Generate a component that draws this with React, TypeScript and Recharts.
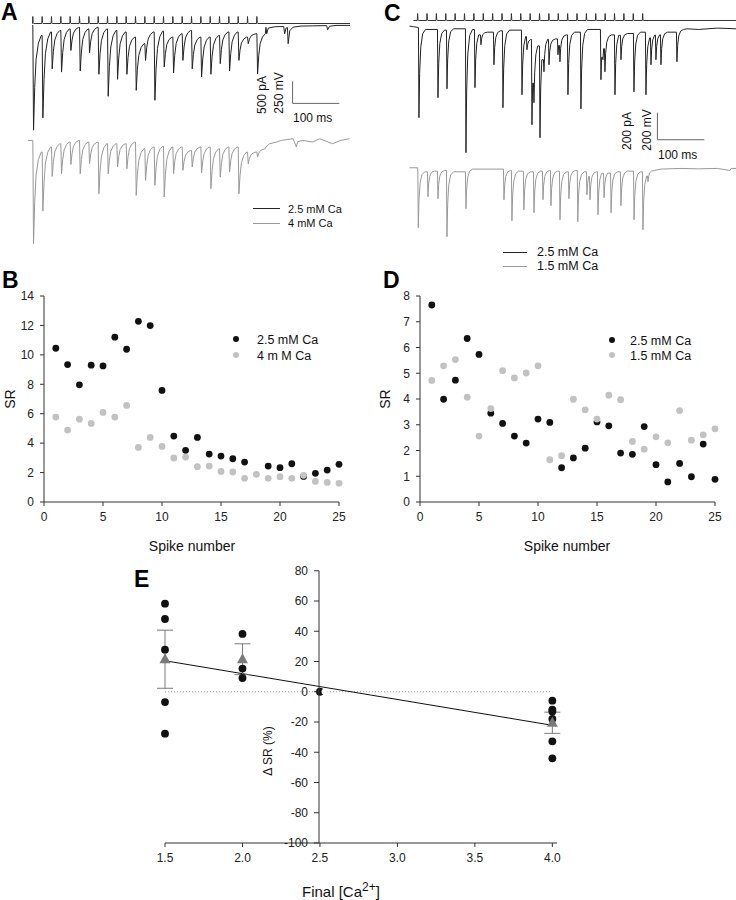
import React from 'react';
import {
  LineChart, Line, XAxis, YAxis, ScatterChart, Scatter, ComposedChart,
  ReferenceLine, ErrorBar,
} from 'recharts';

const FONT = '"Liberation Sans", Arial, Helvetica, sans-serif';
const AXIS = '#333';
const TICK = { fill: '#222', fontSize: 12, fontFamily: FONT };

// ---------- Panel A / C traces (times in ms, currents in pA, stim in mV) ----------
const stimTimes = [0, 20, 40, 60, 80, 100, 120, 140, 160, 180, 200, 220, 240, 260, 280, 300, 320, 340, 360, 380, 400, 420, 440, 460, 480];
const stimHeight = 80;

// A: 2.5 mM Ca (black)
const aBlackTimes = [0.5, 20.5, 40.5, 60.5, 80.5, 100.5, 120.5, 140.5, 160.5, 180.5, 200.5, 220.5, 240.5, 260.5, 280.5, 300.5, 320.5, 340.5, 360.5, 380.5, 400.5, 420.5, 440.5, 460.5, 480.5];
const aBlackPeaks = [-2380, -2100, -985, -1060, -570, -1035, -620, -1110, -1610, -1225, -1110, -1475, -795, -1700, -945, -1080, -795, -985, -1170, -1110, -870, -1035, -795, -415, -1100];
const aBlackRecs = [-230, -150, -115, -80, -45, -80, -45, -80, -115, -150, -265, -415, -150, -130, -265, -190, -115, -265, -265, -230, -150, -150, -265, -190, -190];
const aBlackStart: [number, number][] = [[-1, 0]];
const aBlackTail: [number, number][] = [[500, -45], [501.5, -190], [505, -60], [520, -30], [538, -25], [540, -190], [543, -60], [546, -50], [547.5, -415], [551, -120], [558, -40], [575, -15], [600, -10], [630, -5], [632, -100], [636, -20], [650, 0], [680, 0]];

// A: 4 mM Ca (grey)
const aGreyTimes = aBlackTimes;
const aGreyPeaks = [-2345, -1605, -817, -757, -545, -757, -530, -1210, -757, -605, -643, -1250, -908, -1020, -1285, -757, -680, -605, -740, -1097, -832, -720, -1210, -530, -378];
const aGreyRecs = [-265, -150, -75, -38, 0, -38, -38, -75, -75, -75, -38, -190, -150, -136, -150, -150, -227, -150, -150, -190, -150, -150, -265, -265, -190];
const aGreyStart: [number, number][] = [[-10, 0], [-0.2, 0]];
const aGreyTail: [number, number][] = [[500, -150], [508, -75], [522, -38], [533, 0], [558, 38], [565, -150], [568, -30], [579, 0], [600, -38], [615, 38], [643, -75], [660, 0], [679, 38]];

// C: 2.5 mM Ca (black)
const cBlackTimes = [2.1, 42.7, 61.9, 102.4, 121.6, 134.4, 162.1, 181.3, 221.9, 232.5, 243.2, 247.5, 260.3, 268.8, 279.5, 298.7, 302.9, 320, 347.7, 390.4, 394.7, 398.9, 420.3, 433.1, 460.8, 486.4, 497.1, 507.7, 518.4, 552.5];
const cBlackPeaks = [-673, -525, -459, -932, -451, -133, -281, -599, -503, -170, -725, -562, -821, -333, -281, -207, -259, -503, -607, -392, -244, -333, -503, -244, -481, -503, -281, -244, -281, -259];
const cBlackRecs = [-20, -25, -15, -20, -40, -40, -30, -25, -50, -90, -110, -120, -100, -80, -90, -70, -60, -40, -20, -60, -80, -60, -40, -50, -40, -60, -50, -50, -40, -20];
const cBlackStart: [number, number][] = [[-17, 5], [-8, 0], [1, -5]];
const cBlackTail: [number, number][] = [[575, -15], [600, -20], [640, -10], [680, -15]];

// C: 1.5 mM Ca (grey)
const cGreyTimes = [0.7, 21.3, 42.7, 61.9, 102.4, 183.5, 200.5, 226, 247.5, 266.7, 283.7, 303, 322, 341, 360.5, 367, 384, 397, 412, 433, 461, 480, 490.7];
const cGreyPeaks = [-444, -215, -229, -511, -303, -237, -392, -311, -333, -237, -281, -385, -229, -400, -200, -237, -348, -222, -333, -281, -385, -459, -104];
const cGreyRecs = [-30, -25, -20, -30, -10, -20, -25, -30, -25, -20, -25, -30, -20, -30, -30, -30, -25, -30, -30, -25, -30, -40, -20];
const cGreyStart: [number, number][] = [[-17, 0], [-1, 0]];
const cGreyTail: [number, number][] = [[520, -10], [560, -5], [600, -8], [640, -5], [667, -20], [669, -5], [680, -5]];

// ---------- Panels B / D ----------
const spikeNo = [1, 2, 3, 4, 5, 6, 7, 8, 9, 10, 11, 12, 13, 14, 15, 16, 17, 18, 19, 20, 21, 22, 23, 24, 25];
const bBlack = [10.45, 9.34, 7.96, 9.3, 9.25, 11.2, 10.38, 12.28, 11.99, 7.58, 4.48, 3.51, 4.39, 3.26, 3.12, 2.94, 2.71, null, 2.44, 2.33, 2.6, 1.74, 1.95, 2.17, 2.56];
const bGrey = [5.77, 4.89, 5.63, 5.34, 6.09, 5.77, 6.56, 3.71, 4.39, 3.78, 2.99, 3.05, 2.4, 2.44, 2.08, 2.04, 1.61, 1.88, 1.61, 1.72, 1.61, 1.81, 1.4, 1.33, 1.27];
const dBlack = [7.65, 3.99, 4.73, 6.35, 5.73, 3.45, 3.05, 2.56, 2.29, 3.22, 3.09, 1.33, 1.71, 2.09, 3.11, 2.96, 1.9, 1.85, 2.93, 1.45, 0.78, 1.5, 0.98, 2.25, 0.88];
const dGrey = [4.72, 5.29, 5.53, 4.07, 2.56, 3.63, 5.1, 4.82, 5.01, 5.29, 1.64, 1.8, 3.99, 3.58, 3.22, 4.15, 3.97, 2.35, 2.05, 2.53, 2.3, 3.55, 2.4, 2.61, 2.84];
const xTicksBD = [0, 5, 10, 15, 20, 25];
const yTicksB = [0, 2, 4, 6, 8, 10, 12, 14];
const yTicksD = [0, 1, 2, 3, 4, 5, 6, 7, 8];

// ---------- Panel E ----------
const eConc = [1.5, 2.0, 2.5, 4.0];
const eValues = [
  [58.2, 48.1, 27.8, -6.8, -27.7],
  [38.2, 15.3, 9.1],
  [0],
  [-5.9, -11.8, -13, -18, -32.8, -44],
];
const eMean = [21.5, 21.5, null, -20.5];
const eSem = [19.2, 10.2, null, 7];
const eRegX = [1.5, 4.0];
const eRegY = [20.5, -22.2];
const eXTicks = [1.5, 2.0, 2.5, 3.0, 3.5, 4.0];
const eYTicks = [-100, -80, -60, -40, -20, 0, 20, 40, 60, 80];

// ---------- builders ----------
const KERNEL_A = { dt: [1.5, 4, 7, 12, 18], frac: [0, 0.45, 0.75, 0.92, 1] };
const KERNEL_C = { dt: [1.1, 2.6, 5, 9, 15], frac: [0, 0.5, 0.8, 0.95, 1] };

function buildTrace(start: [number, number][], times: number[], peaks: number[], recs: number[], tail: [number, number][], kernel: { dt: number[]; frac: number[] }) {
  const pts: { t: number; v: number }[] = start.map(([t, v]) => ({ t, v }));
  times.forEach((t0, i) => {
    const next = i + 1 < times.length ? times[i + 1] : Infinity;
    const last = pts[pts.length - 1];
    if (t0 > last.t + 0.05) pts.push({ t: t0, v: last.v });
    kernel.dt.forEach((dt, k) => {
      const t = t0 + dt;
      if (k === 0 || t < next - 0.05) pts.push({ t, v: peaks[i] + kernel.frac[k] * (recs[i] - peaks[i]) });
    });
  });
  tail.forEach(([t, v]) => pts.push({ t, v }));
  return pts;
}

function buildStim(times: number[], t0: number, t1: number) {
  const pts: { t: number; v: number }[] = [{ t: t0, v: 0 }];
  times.forEach((t) => {
    pts.push({ t: t - 0.3, v: 0 });
    pts.push({ t: t + 0.4, v: stimHeight });
    pts.push({ t: t + 1.3, v: 8 });
    pts.push({ t: t + 2.4, v: 0 });
  });
  pts.push({ t: t1, v: 0 });
  return pts;
}

const stimA = buildStim(stimTimes, -1, 680);
const stimC = buildStim(stimTimes, -8.5, 680);
const traceA25 = buildTrace(aBlackStart, aBlackTimes, aBlackPeaks, aBlackRecs, aBlackTail, KERNEL_A);
const traceA4 = buildTrace(aGreyStart, aGreyTimes, aGreyPeaks, aGreyRecs, aGreyTail, KERNEL_A);
const traceC25 = buildTrace(cBlackStart, cBlackTimes, cBlackPeaks, cBlackRecs, cBlackTail, KERNEL_C);
const traceC15 = buildTrace(cGreyStart, cGreyTimes, cGreyPeaks, cGreyRecs, cGreyTail, KERNEL_C);

const toXY = (xs: number[], ys: (number | null)[]) =>
  xs.map((x, i) => ({ x, y: ys[i] })).filter((p) => p.y !== null && p.y !== undefined);

const bBlackPts = toXY(spikeNo, bBlack);
const bGreyPts = toXY(spikeNo, bGrey);
const dBlackPts = toXY(spikeNo, dBlack);
const dGreyPts = toXY(spikeNo, dGrey);

const ePoints = eConc.flatMap((c, i) => eValues[i].map((v) => ({ x: c, y: v })));
const eMeans = eConc
  .map((c, i) => ({ x: c, y: eMean[i], err: eSem[i] }))
  .filter((p) => p.y !== null);
const eReg = eRegX.map((x, i) => ({ x, y: eRegY[i] }));

// ---------- small components ----------
function Trace(props: {
  data: { t: number; v: number }[]; left: number; top: number; width: number; height: number;
  xDomain: [number, number]; yDomain: [number, number]; color: string; children?: React.ReactNode;
}) {
  const { data, left, top, width, height, xDomain, yDomain, color, children } = props;
  return (
    <div style={{ position: 'absolute', left, top }}>
      <LineChart width={width} height={height} data={data} margin={{ top: 0, right: 0, bottom: 0, left: 0 }}>
        <XAxis dataKey="t" type="number" domain={xDomain} hide />
        <YAxis type="number" domain={yDomain} hide />
        <Line dataKey="v" type="linear" stroke={color} strokeWidth={1} dot={false} isAnimationActive={false} />
        {children}
      </LineChart>
    </div>
  );
}

const dotShape = (fill: string, r: number) => (p: any) => <circle cx={p.cx} cy={p.cy} r={r} fill={fill} />;
const triShape = (p: any) => (
  <path d={`M${p.cx},${p.cy - 6}L${p.cx + 5.5},${p.cy + 4}L${p.cx - 5.5},${p.cy + 4}Z`} fill="#7a7a7a" />
);

function Txt(props: { x: number; y: number; size?: number; bold?: boolean; center?: boolean; rotate?: boolean; children: React.ReactNode }) {
  const { x, y, size = 12, bold, center, rotate, children } = props;
  const tf = rotate ? 'translate(-50%,-50%) rotate(-90deg)' : center ? 'translate(-50%,-50%)' : 'translate(0,-50%)';
  return (
    <div style={{ position: 'absolute', left: x, top: y, transform: tf, fontSize: size, fontWeight: bold ? 700 : 400, fontFamily: FONT, lineHeight: 1, whiteSpace: 'nowrap', color: '#111' }}>
      {children}
    </div>
  );
}

function Letter(props: { x: number; y: number; children: React.ReactNode }) {
  return (
    <div style={{ position: 'absolute', left: props.x, top: props.y, fontSize: 23, fontWeight: 700, fontFamily: FONT, lineHeight: 1.1, color: '#000' }}>
      {props.children}
    </div>
  );
}

function LegLine(props: { x: number; y: number; w: number; color: string }) {
  return <div style={{ position: 'absolute', left: props.x, top: props.y, width: props.w, height: 0, borderTop: `1px solid ${props.color}` }} />;
}

function LegDot(props: { x: number; y: number; color: string }) {
  return <div style={{ position: 'absolute', left: props.x - 3.4, top: props.y - 3.4, width: 6.8, height: 6.8, borderRadius: '50%', background: props.color }} />;
}

function SRPanel(props: { left: number; width: number; yAxisW: number; right: number; black: any[]; grey: any[]; yMax: number; yTicks: number[] }) {
  const { left, width, yAxisW, right, black, grey, yMax, yTicks } = props;
  return (
    <div style={{ position: 'absolute', left, top: 280 }}>
      <ScatterChart width={width} height={300} margin={{ top: 16, right, bottom: 28, left: 0 }}>
        <XAxis type="number" dataKey="x" domain={[0, 25]} ticks={xTicksBD} height={50} tickSize={4} tickMargin={6} stroke={AXIS} tick={TICK} />
        <YAxis type="number" dataKey="y" domain={[0, yMax]} ticks={yTicks} width={yAxisW} tickSize={4} tickMargin={6} stroke={AXIS} tick={TICK} />
        <Scatter data={black} fill="#111" shape={dotShape('#111', 3.4)} isAnimationActive={false} />
        <Scatter data={grey} fill="#c2c2c2" shape={dotShape('#c2c2c2', 3.4)} isAnimationActive={false} />
      </ScatterChart>
    </div>
  );
}

export default function App() {
  const aLeft = 27.4, aW = 323;
  const cLeft = 408.6, cW = 327.2;
  return (
    <div style={{ position: 'absolute', left: 0, top: 0, width: 736, height: 900, background: '#fff', overflow: 'hidden', fontFamily: FONT }}>
      {/* ---------- A ---------- */}
      <Letter x={1} y={0}>A</Letter>
      <Trace data={stimA} left={aLeft} top={12.8} width={aW} height={14} xDomain={[-12, 680]} yDomain={[-40, 120]} color="#333" />
      <Trace data={traceA25} left={aLeft} top={20.6} width={aW} height={114.5} xDomain={[-12, 680]} yDomain={[-2500, 100]} color="#222">
        <ReferenceLine segment={[{ x: 557, y: -1771 }, { x: 657, y: -1771 }]} stroke="#666" />
        <ReferenceLine segment={[{ x: 557, y: -1771 }, { x: 557, y: -1271 }]} stroke="#666" />
      </Trace>
      <Trace data={traceA4} left={aLeft} top={135.6} width={aW} height={114.5} xDomain={[-12, 680]} yDomain={[-2500, 100]} color="#999" />
      <Txt x={262} y={95} rotate>500 pA</Txt>
      <Txt x={279} y={92.5} rotate>250 mV</Txt>
      <Txt x={293} y={118}>100 ms</Txt>
      <LegLine x={253} y={208} w={27} color="#222" />
      <LegLine x={253} y={222.5} w={27} color="#999" />
      <Txt x={288} y={208.5} size={11}>2.5 mM Ca</Txt>
      <Txt x={288} y={223} size={11}>4 mM Ca</Txt>

      {/* ---------- C ---------- */}
      <Letter x={384} y={1}>C</Letter>
      <Trace data={stimC} left={cLeft} top={10.2} width={cW} height={14} xDomain={[-18, 680]} yDomain={[-40, 120]} color="#333" />
      <Trace data={traceC25} left={cLeft} top={20.2} width={cW} height={141.9} xDomain={[-18, 680]} yDomain={[-1000, 50]} color="#222">
        <ReferenceLine segment={[{ x: 512, y: -836 }, { x: 612, y: -836 }]} stroke="#666" />
        <ReferenceLine segment={[{ x: 512, y: -836 }, { x: 512, y: -636 }]} stroke="#666" />
      </Trace>
      <Trace data={traceC15} left={cLeft} top={161.2} width={cW} height={87.8} xDomain={[-18, 680]} yDomain={[-600, 50]} color="#999" />
      <Txt x={627} y={131} rotate>200 pA</Txt>
      <Txt x={647} y={129.5} rotate>200 mV</Txt>
      <Txt x={658} y={155}>100 ms</Txt>
      <LegLine x={503} y={251.5} w={24} color="#222" />
      <LegLine x={503} y={265.5} w={24} color="#999" />
      <Txt x={537} y={252} size={12.5}>2.5 mM Ca</Txt>
      <Txt x={537} y={266} size={12.5}>1.5 mM Ca</Txt>

      {/* ---------- B ---------- */}
      <Letter x={2} y={268}>B</Letter>
      <SRPanel left={0} width={370} yAxisW={44} right={31} black={bBlackPts} grey={bGreyPts} yMax={14} yTicks={yTicksB} />
      <Txt x={10} y={399} size={14} rotate>SR</Txt>
      <Txt x={192} y={546} size={14} center>Spike number</Txt>
      <LegDot x={236} y={339} color="#111" />
      <LegDot x={236} y={355} color="#c2c2c2" />
      <Txt x={257} y={339.5} size={12.5}>2.5 mM Ca</Txt>
      <Txt x={257} y={355.5} size={12.5}>4 m M Ca</Txt>

      {/* ---------- D ---------- */}
      <Letter x={383} y={268}>D</Letter>
      <SRPanel left={370} width={366} yAxisW={50} right={21} black={dBlackPts} grey={dGreyPts} yMax={8} yTicks={yTicksD} />
      <Txt x={385} y={399} size={14} rotate>SR</Txt>
      <Txt x={567} y={546} size={14} center>Spike number</Txt>
      <LegDot x={612} y={340} color="#111" />
      <LegDot x={612} y={355} color="#c2c2c2" />
      <Txt x={630} y={340.5} size={12.5}>2.5 mM Ca</Txt>
      <Txt x={630} y={355.5} size={12.5}>1.5 mM Ca</Txt>

      {/* ---------- E ---------- */}
      <Letter x={134} y={567}>E</Letter>
      <div style={{ position: 'absolute', left: 130, top: 560 }}>
        <ComposedChart width={480} height={340} margin={{ top: 10.75, right: 53, bottom: 27, left: 35 }}>
          <XAxis type="number" dataKey="x" domain={[1.5, 4.03]} ticks={eXTicks} tickFormatter={(v: number) => v.toFixed(1)} height={30} tickSize={4} tickMargin={6} stroke={AXIS} tick={TICK} />
          <YAxis type="number" domain={[-100, 80]} hide />
          <ReferenceLine segment={[{ x: 1.5, y: 0 }, { x: 4.0, y: 0 }]} stroke="#999" strokeDasharray="1 2" />
          <Line data={eReg} dataKey="y" type="linear" stroke="#111" strokeWidth={1} dot={false} isAnimationActive={false} />
          <Scatter data={ePoints} dataKey="y" fill="#111" shape={dotShape('#111', 3.9)} isAnimationActive={false} />
          <Scatter data={eMeans} dataKey="y" fill="#7a7a7a" shape={triShape} isAnimationActive={false}>
            <ErrorBar dataKey="err" direction="y" width={8} stroke="#7a7a7a" strokeWidth={1} />
          </Scatter>
        </ComposedChart>
      </div>
      <div style={{ position: 'absolute', left: 270, top: 560 }}>
        <LineChart width={60} height={340} data={[{ x: 0.5, y: 0 }]} margin={{ top: 10.75, right: 0, bottom: 57, left: 0 }}>
          <XAxis dataKey="x" type="number" domain={[0, 1]} hide />
          <YAxis type="number" domain={[-100, 80]} ticks={eYTicks} width={49} tickSize={5} tickMargin={6} stroke={AXIS} tick={TICK} />
          <Line dataKey="y" stroke="none" dot={false} isAnimationActive={false} />
        </LineChart>
      </div>
      <Txt x={268} y={751} size={12} rotate>Δ SR (%)</Txt>
      <div style={{ position: 'absolute', left: 302, top: 884, fontSize: 15, fontFamily: FONT, lineHeight: 1, whiteSpace: 'nowrap', color: '#111' }}>
        Final [Ca<span style={{ fontSize: 12, position: 'relative', top: -6 }}>2+</span>]
      </div>
    </div>
  );
}
